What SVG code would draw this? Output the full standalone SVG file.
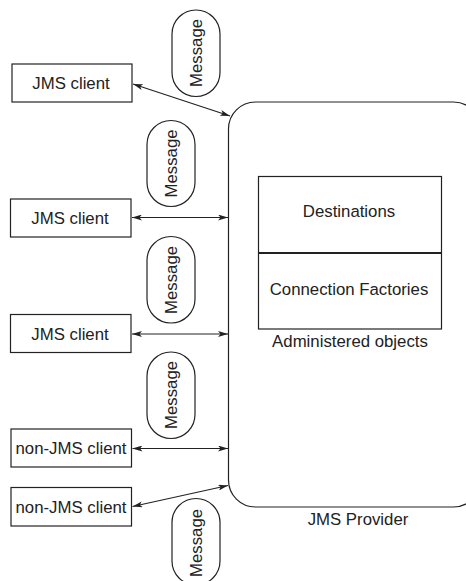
<svg xmlns="http://www.w3.org/2000/svg" width="466" height="581" viewBox="0 0 466 581">
<style>
.box{fill:#fff;stroke:#222;stroke-width:1.2}
.pill{fill:#fff;stroke:#222;stroke-width:1.2}
.t{font-family:"Liberation Sans",Arial,sans-serif;font-size:16.8px;fill:#222;text-anchor:middle}
.c{stroke:#222;stroke-width:1.2;fill:none;marker-start:url(#ah);marker-end:url(#ah)}
</style>
<defs>
<marker id="ah" viewBox="0 0 10 6" refX="10" refY="3" markerWidth="10" markerHeight="6" markerUnits="userSpaceOnUse" orient="auto-start-reverse">
<path d="M0,0 L10,3 L0,6 L2.5,3 Z" fill="#222"/>
</marker>
</defs>
<rect width="466" height="581" fill="#fff"/>
<g id="provider">
<rect class="box" x="228.5" y="102" width="252" height="405" rx="27" ry="27"/>
<text class="t" x="358" y="525">JMS Provider</text>
</g>
<g id="admin">
<rect class="box" x="258.5" y="176.5" width="183" height="152.5"/>
<line x1="258.5" y1="253" x2="441.5" y2="253" stroke="#222" stroke-width="2"/>
<text class="t" x="349" y="217">Destinations</text>
<text class="t" x="349" y="295">Connection Factories</text>
<text class="t" x="350" y="347">Administered objects</text>
</g>
<g id="client1">
<rect class="box" x="12" y="64" width="120" height="38"/>
<text class="t" x="71" y="89">JMS client</text>
</g>
<g id="client2">
<rect class="box" x="10.5" y="199" width="120.5" height="38"/>
<text class="t" x="70" y="224">JMS client</text>
</g>
<g id="client3">
<rect class="box" x="10.5" y="314.5" width="120.5" height="38"/>
<text class="t" x="70" y="340">JMS client</text>
</g>
<g id="client4">
<rect class="box" x="11" y="429" width="120.5" height="38"/>
<text class="t" x="71" y="454">non-JMS client</text>
</g>
<g id="client5">
<rect class="box" x="11" y="487.5" width="120.5" height="38.5"/>
<text class="t" x="71" y="513">non-JMS client</text>
</g>
<g id="msg1">
<rect class="pill" x="172" y="10" width="48" height="86.5" rx="24" ry="24"/>
<text class="t" transform="translate(202,53) rotate(-90)">Message</text>
</g>
<g id="msg2">
<rect class="pill" x="147" y="120.5" width="48" height="86" rx="24" ry="24"/>
<text class="t" transform="translate(177,163.5) rotate(-90)">Message</text>
</g>
<g id="msg3">
<rect class="pill" x="147" y="236.5" width="48" height="86.5" rx="24" ry="24"/>
<text class="t" transform="translate(177,280) rotate(-90)">Message</text>
</g>
<g id="msg4">
<rect class="pill" x="147" y="352" width="48" height="86.5" rx="24" ry="24"/>
<text class="t" transform="translate(177,395) rotate(-90)">Message</text>
</g>
<g id="msg5">
<rect class="pill" x="172" y="498.5" width="48" height="86.5" rx="24" ry="24"/>
<text class="t" transform="translate(202,543) rotate(-90)">Message</text>
</g>
<g id="connectors">
<line class="c" x1="133" y1="84" x2="230" y2="116"/>
<line class="c" x1="132" y1="217.5" x2="228" y2="217.5"/>
<line class="c" x1="132" y1="334" x2="228" y2="334"/>
<line class="c" x1="132.5" y1="448.5" x2="228" y2="448.5"/>
<line class="c" x1="132.5" y1="506.5" x2="228" y2="485.5"/>
</g>
</svg>
